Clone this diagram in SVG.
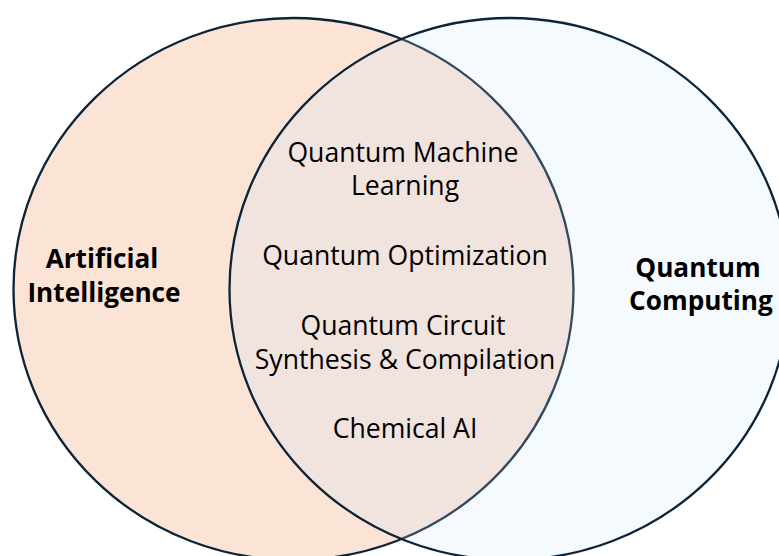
<svg xmlns="http://www.w3.org/2000/svg" width="779" height="556" viewBox="0 0 779 556">
  <style>
    .set { stroke: #0C2438; stroke-width: 2.3; }
    .ai { fill: #FBE3D6; }
    .qc { fill: rgb(206,232,254); fill-opacity: 0.2; }
    .topic { font-family: "Open Sans", "Liberation Sans", sans-serif; font-size: 26.6px; fill: #000; text-anchor: middle; }
    .label { font-family: "Open Sans", "Liberation Sans", sans-serif; font-size: 26.2px; font-weight: 700; fill: #000; text-anchor: middle; }
  </style>
  <rect width="779" height="556" fill="#FFFFFF"/>

  <!-- Artificial Intelligence set -->
  <g id="ai">
    <ellipse class="set ai" cx="293.5" cy="289" rx="280" ry="271"/>
    <text class="label" x="102" y="268">Artificial</text>
    <text class="label" x="104" y="302">Intelligence</text>
  </g>

  <!-- Quantum Computing set, translucent so the overlap blends -->
  <g id="qc">
    <ellipse class="set qc" cx="509.5" cy="289" rx="280" ry="271"/>
    <text class="label" x="698" y="277">Quantum</text>
    <text class="label" x="701" y="310">Computing</text>
  </g>

  <!-- Shared topics in the intersection -->
  <g id="overlap">
    <text class="topic" x="403" y="162">Quantum Machine</text>
    <text class="topic" x="405" y="195">Learning</text>
    <text class="topic" x="405" y="265">Quantum Optimization</text>
    <text class="topic" x="403" y="335">Quantum Circuit</text>
    <text class="topic" x="405" y="369">Synthesis &amp; Compilation</text>
    <text class="topic" x="405" y="438">Chemical AI</text>
  </g>

  <g id="connectors"/>
</svg>
